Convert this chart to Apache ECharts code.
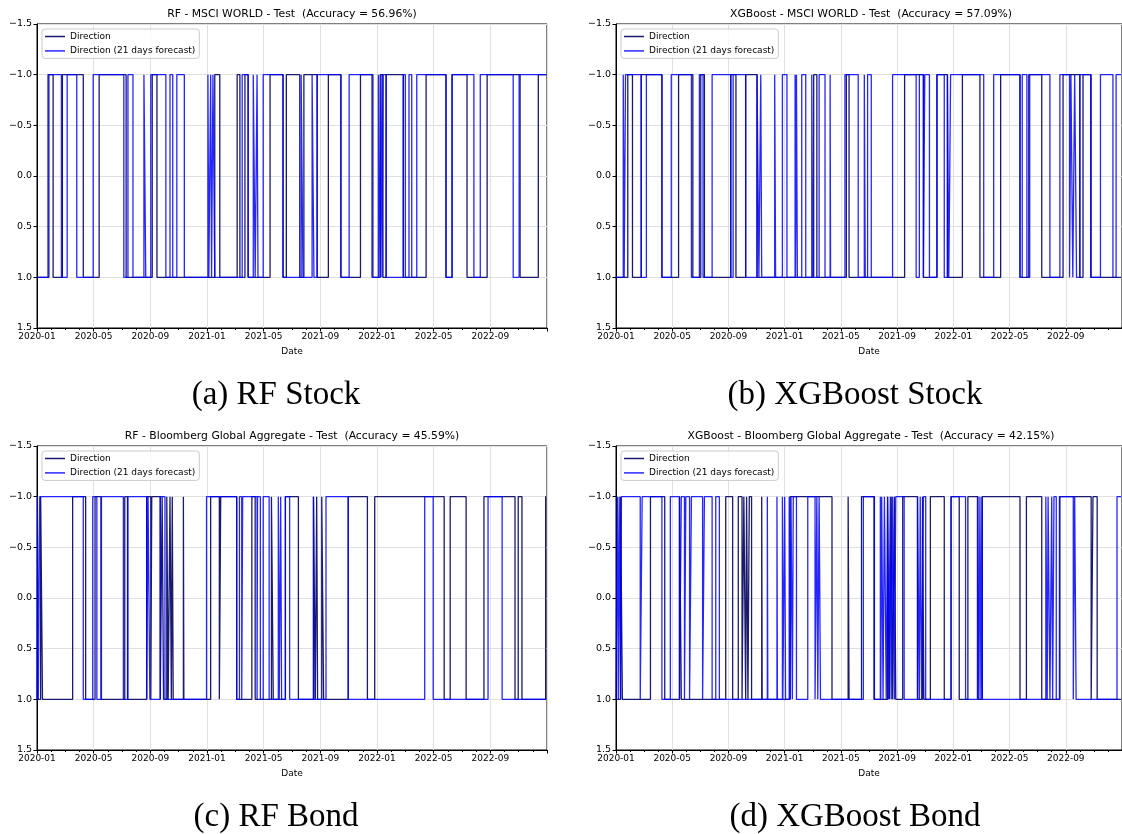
<!DOCTYPE html>
<html>
<head>
<meta charset="utf-8">
<script src="https://cdn.jsdelivr.net/npm/echarts@6/dist/echarts.min.js"></script>
<style>
  html, body { margin: 0; padding: 0; background: #fff; }
  #main { width: 1122px; height: 834px; }
</style>
</head>
<body>
<div id="main"></div>
<script>
// periods where the direction is -1 (otherwise it sits at 1)
const END = '2022-12-31';

const rfStockDirection = [
  ['2020-01-27', '2020-02-05'], ['2020-02-24', '2020-04-09'], ['2020-05-13', '2020-07-10'],
  ['2020-09-05', '2020-09-15'], ['2021-01-18', '2021-01-29'], ['2021-03-05', '2021-03-11'],
  ['2021-03-22', '2021-03-29'], ['2021-05-15', '2021-06-12'], ['2021-06-19', '2021-07-18'],
  ['2021-07-27', '2021-08-25'], ['2021-09-18', '2021-10-15'], ['2021-11-26', '2021-12-23'],
  ['2022-01-08', '2022-01-14'], ['2022-01-21', '2022-02-25'], ['2022-04-15', '2022-05-28'],
  ['2022-06-10', '2022-07-12'], ['2022-08-25', '2022-11-04'], ['2022-12-13', '2022-12-31']
];
const rfStockForecast = [
  ['2020-01-25', '2020-02-22'], ['2020-03-05', '2020-03-26'], ['2020-04-30', '2020-07-05'],
  ['2020-07-14', '2020-07-25'], ['2020-08-18', '2020-08-22'], ['2020-09-02', '2020-10-04'],
  ['2020-10-13', '2020-10-19'], ['2020-10-28', '2020-11-13'], ['2021-01-03', '2021-01-05'],
  ['2021-01-09', '2021-01-11'], ['2021-01-14', '2021-01-18'], ['2021-03-16', '2021-03-29'],
  ['2021-04-09', '2021-04-13'], ['2021-04-17', '2021-04-19'], ['2021-04-30', '2021-06-12'],
  ['2021-07-21', '2021-07-25'], ['2021-08-14', '2021-08-18'], ['2021-08-25', '2021-10-15'],
  ['2021-11-02', '2021-12-21'], ['2022-01-04', '2022-01-08'], ['2022-01-10', '2022-01-12'],
  ['2022-01-14', '2022-01-21'], ['2022-02-25', '2022-03-01'], ['2022-03-09', '2022-03-15'],
  ['2022-03-26', '2022-05-28'], ['2022-06-10', '2022-07-27'], ['2022-08-10', '2022-10-20'],
  ['2022-11-02', '2022-12-31']
];

const xgbStockDirection = [
  ['2020-01-27', '2020-02-06'], ['2020-02-24', '2020-04-09'], ['2020-05-15', '2020-06-15'],
  ['2020-07-02', '2020-07-10'], ['2020-09-06', '2020-09-17'], ['2020-10-08', '2020-11-02'],
  ['2021-03-03', '2021-03-10'], ['2021-05-13', '2021-05-19'], ['2021-09-17', '2021-10-28'],
  ['2021-11-26', '2021-12-19'], ['2022-01-21', '2022-02-26'], ['2022-04-12', '2022-05-24'],
  ['2022-06-12', '2022-07-10'], ['2022-08-26', '2022-10-01'], ['2022-10-08', '2022-10-25']
];
const xgbStockForecast = [
  ['2020-01-17', '2020-01-19'], ['2020-01-22', '2020-02-24'], ['2020-03-06', '2020-04-09'],
  ['2020-04-29', '2020-06-12'], ['2020-06-29', '2020-07-07'], ['2020-07-27', '2020-09-06'],
  ['2020-09-11', '2020-10-08'], ['2020-11-02', '2020-11-06'], ['2020-11-10', '2020-11-12'],
  ['2020-12-10', '2020-12-12'], ['2020-12-27', '2021-01-06'], ['2021-01-24', '2021-01-25'],
  ['2021-01-27', '2021-01-29'], ['2021-02-07', '2021-02-15'], ['2021-02-27', '2021-03-01'],
  ['2021-03-15', '2021-03-28'], ['2021-04-08', '2021-04-09'], ['2021-05-10', '2021-06-08'],
  ['2021-06-21', '2021-06-23'], ['2021-06-28', '2021-07-06'], ['2021-08-22', '2021-10-12'],
  ['2021-10-19', '2021-10-28'], ['2021-10-31', '2021-11-10'], ['2021-11-26', '2021-12-12'],
  ['2021-12-19', '2021-12-22'], ['2021-12-26', '2022-03-06'], ['2022-03-28', '2022-05-24'],
  ['2022-05-29', '2022-06-08'], ['2022-06-14', '2022-07-28'], ['2022-08-19', '2022-09-09'],
  ['2022-09-12', '2022-09-16'], ['2022-09-20', '2022-09-24'], ['2022-10-01', '2022-10-26'],
  ['2022-11-15', '2022-12-12'], ['2022-12-19', '2022-12-31']
];

const rfBondDirection = [
  ['2020-01-09', '2020-01-13'], ['2020-03-17', '2020-04-14'], ['2020-05-04', '2020-05-17'],
  ['2020-07-07', '2020-07-13'], ['2020-08-24', '2020-09-02'], ['2020-09-04', '2020-09-22'],
  ['2020-09-26', '2020-09-29'], ['2020-10-06', '2020-10-09'], ['2020-10-13', '2020-10-16'],
  ['2020-10-18', '2020-10-20'], ['2020-11-11', '2020-11-12'], ['2021-01-09', '2021-01-28'],
  ['2021-01-31', '2021-03-04'], ['2021-04-06', '2021-04-13'], ['2021-05-18', '2021-05-22'],
  ['2021-06-17', '2021-07-15'], ['2021-08-17', '2021-08-21'], ['2021-08-24', '2021-08-26'],
  ['2021-09-04', '2021-09-08'], ['2021-10-31', '2021-12-11'], ['2021-12-27', '2022-05-24'],
  ['2022-06-06', '2022-07-10'], ['2022-08-18', '2022-10-24'], ['2022-10-31', '2022-11-08'],
  ['2022-12-29', '2022-12-31']
];
const rfBondForecast = [
  ['2020-01-02', '2020-01-04'], ['2020-01-07', '2020-04-09'], ['2020-04-29', '2020-05-08'],
  ['2020-05-18', '2020-07-04'], ['2020-07-14', '2020-08-24'], ['2020-08-27', '2020-08-31'],
  ['2020-09-22', '2020-10-02'], ['2020-12-31', '2021-03-04'], ['2021-03-10', '2021-03-15'],
  ['2021-03-17', '2021-04-17'], ['2021-04-18', '2021-04-24'], ['2021-04-30', '2021-05-13'],
  ['2021-06-02', '2021-06-04'], ['2021-06-07', '2021-06-09'], ['2021-06-17', '2021-06-26'],
  ['2021-08-17', '2021-08-18'], ['2021-09-13', '2021-10-31'], ['2022-04-12', '2022-04-30'],
  ['2022-08-27', '2022-09-26']
];

const xgbBondDirection = [
  ['2020-01-11', '2020-01-15'], ['2020-03-15', '2020-04-15'], ['2020-05-17', '2020-05-21'],
  ['2020-08-26', '2020-09-10'], ['2020-09-22', '2020-09-30'], ['2020-10-04', '2020-10-08'],
  ['2020-10-10', '2020-10-13'], ['2020-10-16', '2020-10-21'], ['2020-11-12', '2020-11-13'],
  ['2021-01-13', '2021-04-12'], ['2021-05-17', '2021-05-19'], ['2021-06-15', '2021-07-13'],
  ['2021-08-11', '2021-08-15'], ['2021-08-19', '2021-08-22'], ['2021-08-26', '2021-08-29'],
  ['2021-09-13', '2021-10-15'], ['2021-10-26', '2021-10-29'], ['2021-11-12', '2021-12-12'],
  ['2021-12-27', '2022-01-14'], ['2022-02-02', '2022-02-22'], ['2022-03-03', '2022-05-24'],
  ['2022-06-07', '2022-07-10'], ['2022-08-19', '2022-10-26'], ['2022-10-30', '2022-11-08']
];
const xgbBondForecast = [
  ['2020-01-04', '2020-01-06'], ['2020-01-08', '2020-01-11'], ['2020-01-13', '2020-02-22'],
  ['2020-02-26', '2020-04-09'], ['2020-04-27', '2020-05-17'], ['2020-05-21', '2020-05-28'],
  ['2020-05-31', '2020-06-08'], ['2020-06-12', '2020-07-06'], ['2020-07-10', '2020-07-27'],
  ['2020-08-04', '2020-08-12'], ['2020-11-24', '2020-11-25'], ['2020-12-15', '2020-12-16'],
  ['2020-12-27', '2020-12-28'], ['2021-01-01', '2021-01-03'], ['2021-01-11', '2021-01-13'],
  ['2021-01-15', '2021-01-18'], ['2021-01-20', '2021-01-27'], ['2021-02-19', '2021-03-06'],
  ['2021-03-10', '2021-03-12'], ['2021-03-15', '2021-03-18'], ['2021-06-19', '2021-07-12'],
  ['2021-07-26', '2021-07-27'], ['2021-07-29', '2021-08-01'], ['2021-08-04', '2021-08-08'],
  ['2021-08-11', '2021-08-13'], ['2021-08-17', '2021-08-19'], ['2021-08-22', '2021-08-26'],
  ['2021-08-29', '2021-09-16'], ['2021-10-15', '2021-10-19'], ['2021-10-21', '2021-10-24'],
  ['2021-10-28', '2021-11-02'], ['2021-12-27', '2022-01-28'], ['2022-02-21', '2022-02-24'],
  ['2022-02-26', '2022-02-28'], ['2022-03-02', '2022-03-03'], ['2022-07-19', '2022-07-22'],
  ['2022-07-24', '2022-07-28'], ['2022-08-01', '2022-08-03'], ['2022-08-06', '2022-08-11'],
  ['2022-08-18', '2022-09-17'], ['2022-09-20', '2022-09-23'], ['2022-12-21', '2022-12-31']
];

const titles = [
  'RF - MSCI WORLD - Test  (Accuracy = 56.96%)',
  'XGBoost - MSCI WORLD - Test  (Accuracy = 57.09%)',
  'RF - Bloomberg Global Aggregate - Test  (Accuracy = 45.59%)',
  'XGBoost - Bloomberg Global Aggregate - Test  (Accuracy = 42.15%)'
];
const captions = ['(a) RF Stock', '(b) XGBoost Stock', '(c) RF Bond', '(d) XGBoost Bond'];
const seriesNames = ['Direction', 'Direction (21 days forecast)'];
const panels = [
  [rfStockDirection, rfStockForecast],
  [xgbStockDirection, xgbStockForecast],
  [rfBondDirection, rfBondForecast],
  [xgbBondDirection, xgbBondForecast]
];

// date -> months since 2020-01 (the x axis runs in months)
function toMonths(s) {
  const [y, m, d] = s.split('-').map(Number);
  const dim = new Date(y, m, 0).getDate();
  return (y - 2020) * 12 + (m - 1) + (d - 1) / dim;
}

function stepLine(intervals) {
  const pts = [[0, 1]];
  intervals.forEach(([a, b]) => {
    const x0 = toMonths(a), x1 = toMonths(b);
    pts.push([x0, 1], [x0, -1], [x1, -1]);
    if (b !== END) pts.push([x1, 1]);
  });
  if (intervals[intervals.length - 1][1] !== END) pts.push([toMonths(END), 1]);
  return pts;
}

const font = 'DejaVu Sans';
const pos = [
  { left: 37, top: 24 }, { left: 616, top: 24 },
  { left: 37, top: 446 }, { left: 616, top: 446 }
];
const colors = ['#1a1a6e', 'rgba(0,0,255,0.85)'];

const grid = [], xAxis = [], yAxis = [], series = [], legend = [], graphic = [];
pos.forEach((p, i) => {
  grid.push({ left: p.left, top: p.top, width: 510, height: 304, show: true,
    borderColor: '#000', borderWidth: 1, backgroundColor: 'transparent' });
  xAxis.push({
    type: 'value', gridIndex: i, min: 0, max: 36, interval: 4,
    name: 'Date', nameLocation: 'middle', nameGap: 19, nameMoveOverlap: false,
    nameTextStyle: { fontSize: 9, fontFamily: font, color: '#000' },
    axisLine: { onZero: false, lineStyle: { color: '#000', width: 1 } },
    axisTick: { length: 3.5, lineStyle: { color: '#000' } },
    minorTick: { show: true, splitNumber: 4, length: 2, lineStyle: { color: '#000' } },
    axisLabel: {
      fontSize: 9, fontFamily: font, color: '#000', margin: 4, showMaxLabel: false,
      formatter: v => (2020 + Math.floor(v / 12)) + '-' + String(v % 12 + 1).padStart(2, '0')
    },
    splitLine: { show: true, lineStyle: { color: '#e0e0e0', width: 1 } }
  });
  yAxis.push({
    type: 'value', gridIndex: i, inverse: true, min: -1.5, max: 1.5, interval: 0.5,
    axisLine: { show: true, onZero: false, lineStyle: { color: '#000', width: 1 } },
    axisTick: { show: true, length: 3.5, lineStyle: { color: '#000' } },
    axisLabel: {
      fontSize: 9.5, fontFamily: font, color: '#000', margin: 5,
      formatter: v => v.toFixed(1).replace('-', '\u2212')
    },
    splitLine: { show: true, lineStyle: { color: '#e0e0e0', width: 1 } }
  });
  panels[i].forEach((intervals, k) => {
    series.push({
      name: seriesNames[k], type: 'line', xAxisIndex: i, yAxisIndex: i,
      data: stepLine(intervals), symbol: 'none', showSymbol: false,
      lineStyle: { color: colors[k], width: 1.3 }, itemStyle: { color: colors[k] },
      animation: false, silent: true, clip: true
    });
  });
  legend.push({
    data: seriesNames, orient: 'vertical', left: p.left + 5, top: p.top + 5,
    icon: 'path://M0,0H40V3H0Z', symbolKeepAspect: true,
    itemWidth: 20, itemHeight: 9, itemGap: 5.4, padding: [3, 4, 3, 3],
    backgroundColor: 'rgba(255,255,255,0.8)', borderColor: '#cccccc', borderWidth: 1,
    borderRadius: 3, selectedMode: false,
    textStyle: { fontSize: 9, fontFamily: font, color: '#000' }
  });
  graphic.push({
    type: 'text', x: p.left + 255, y: p.top - 10,
    style: { text: titles[i], font: '10.8px "DejaVu Sans"', fill: '#000',
      textAlign: 'center', textVerticalAlign: 'middle' }
  });
  graphic.push({
    type: 'text', x: i % 2 ? 855 : 276, y: p.top + 371,
    style: { text: captions[i], font: '33px "Liberation Serif"', fill: '#000',
      textAlign: 'center', textVerticalAlign: 'middle' }
  });
});

const chart = echarts.init(document.getElementById('main'), null, { renderer: 'canvas' });
chart.setOption({
  backgroundColor: '#fff',
  animation: false,
  grid, xAxis, yAxis, series, legend, graphic
});
</script>
</body>
</html>
